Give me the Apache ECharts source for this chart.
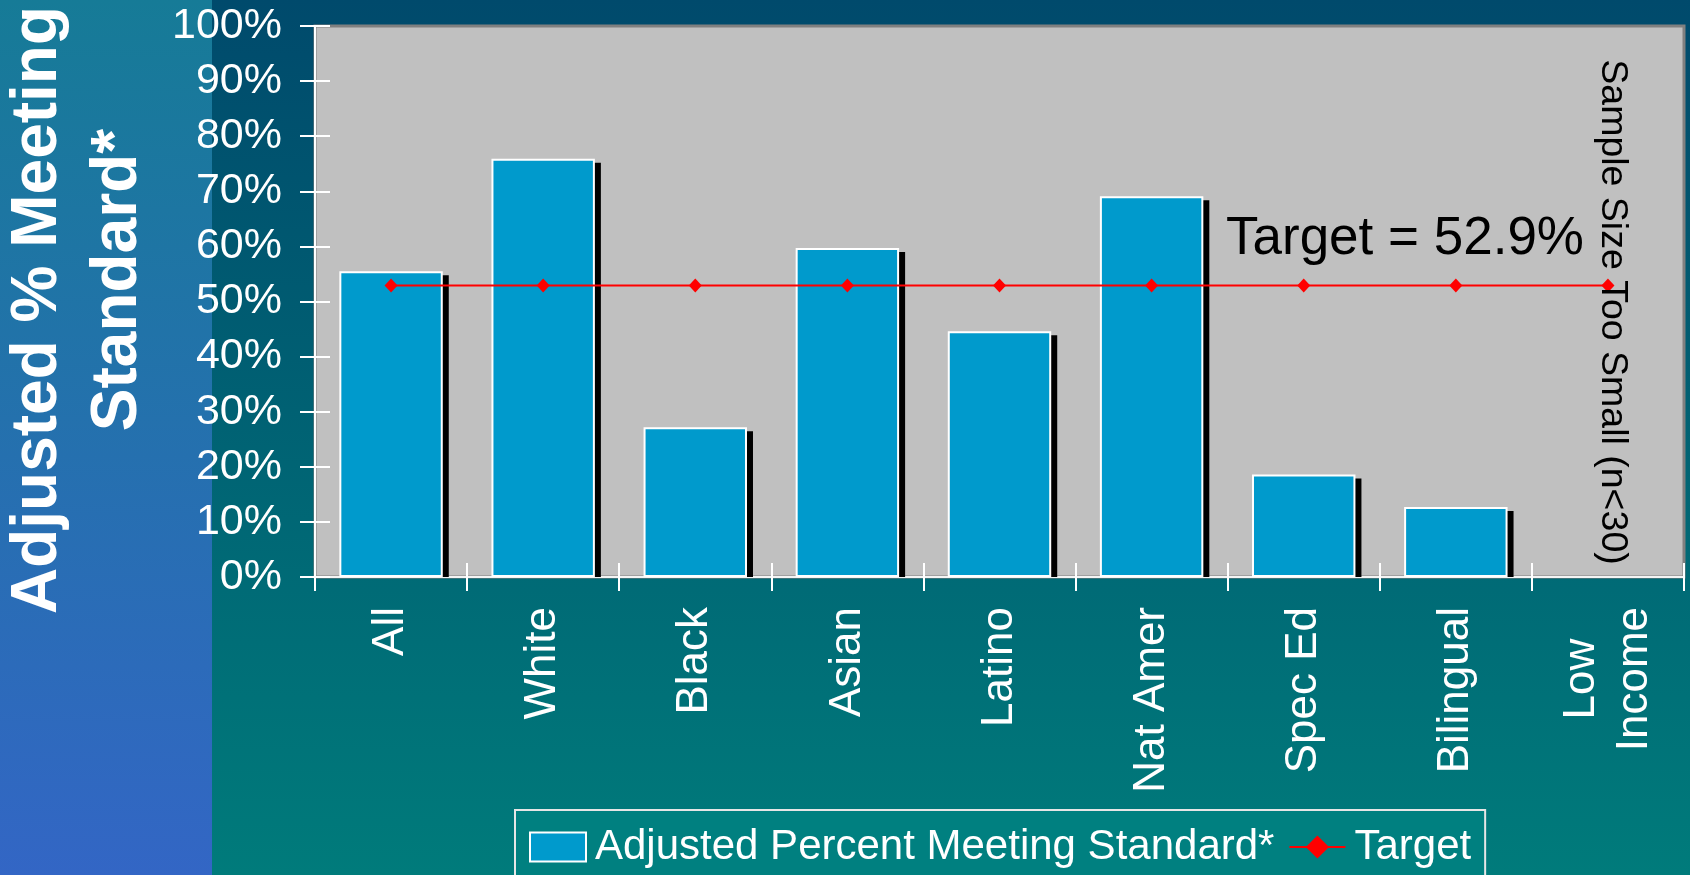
<!DOCTYPE html>
<html>
<head>
<meta charset="utf-8">
<script src="https://cdn.jsdelivr.net/npm/echarts@6/dist/echarts.min.js"></script>
<style>
  html, body { margin: 0; padding: 0; }
  #chart { width: 1690px; height: 875px; }
</style>
</head>
<body>
<div id="chart"></div>
<script>
const categories = ['All', 'White', 'Black', 'Asian', 'Latino', 'Nat Amer', 'Spec Ed', 'Bilingual', 'Low\nIncome']
// 百分比，Low Income 无数据
const meetingStandard = [55.5, 75.9, 27.2, 59.7, 44.6, 69.1, 18.6, 12.7, null]
const target = [52.9, 52.9, 52.9, 52.9, 52.9, 52.9, 52.9, 52.9, 52.9]
const yTicks = [0, 10, 20, 30, 40, 50, 60, 70, 80, 90, 100]

const FONT = '"Liberation Sans", Arial, sans-serif'
const BAR_RATIO = 0.68

var myChart = echarts.init(document.getElementById('chart'))

const tickStyle = { color: '#fff', width: 2 }

const options = {
  backgroundColor: new echarts.graphic.LinearGradient(0, 0, 0, 1, [
    { offset: 0, color: '#004A6C' },
    { offset: 1, color: '#007B7B' }
  ]),
  animation: false,
  textStyle: { fontFamily: FONT },
  grid: {
    left: 315,
    right: 6,
    top: 26,
    bottom: 298,
    show: true,
    backgroundColor: '#C0C0C0',
    borderColor: '#808080',
    borderWidth: 3
  },
  legend: {
    data: [
      { name: 'Adjusted Percent Meeting Standard*', icon: 'rect' },
      { name: 'Target' }
    ],
    left: 515,
    top: 810,
    padding: [16, 14, 24, 14],
    itemWidth: 56,
    itemHeight: 29,
    itemGap: 14,
    backgroundColor: '#008080',
    borderColor: '#E6E6E6',
    borderWidth: 2,
    textStyle: { color: '#fff', fontSize: 42, fontFamily: FONT, padding: [0, 0, 0, 4] }
  },
  xAxis: [
    {
      type: 'category',
      data: categories,
      position: 'bottom',
      boundaryGap: true,
      axisLine: { show: true, lineStyle: { color: '#F4F4F4', width: 2 } },
      axisTick: { show: true, length: 14, lineStyle: tickStyle },
      axisLabel: {
        interval: 0,
        rotate: 90,
        margin: 30,
        color: '#fff',
        fontSize: 44,
        fontFamily: FONT,
        formatter: function (v) {
          if (v.indexOf('\n') < 0) return v
          return v.split('\n').map(function (s) { return '{c|' + s + '}' }).join('\n')
        },
        rich: {
          c: { color: '#fff', fontSize: 44, fontFamily: FONT, align: 'center', lineHeight: 53 }
        }
      },
      splitLine: { show: false }
    },
    {
      type: 'category',
      data: categories,
      position: 'bottom',
      offset: 0,
      boundaryGap: true,
      axisLine: { show: true, lineStyle: { color: '#F4F4F4', width: 2 } },
      axisTick: { show: true, inside: true, length: 14, lineStyle: tickStyle },
      axisLabel: { show: false },
      splitLine: { show: false }
    }
  ],
  yAxis: [
    {
      type: 'value',
      min: yTicks[0],
      max: yTicks[yTicks.length - 1],
      interval: 10,
      position: 'left',
      axisLine: { show: true, lineStyle: { color: '#fff', width: 2 } },
      axisTick: { show: true, length: 15, lineStyle: tickStyle },
      axisLabel: {
        margin: 33,
        color: '#fff',
        fontSize: 43,
        fontFamily: FONT,
        formatter: '{value}%'
      },
      splitLine: { show: false }
    },
    {
      type: 'value',
      min: yTicks[0],
      max: yTicks[yTicks.length - 1],
      interval: 10,
      position: 'left',
      offset: 0,
      axisLine: { show: true, lineStyle: { color: '#fff', width: 2 } },
      axisTick: { show: true, inside: true, length: 15, lineStyle: tickStyle },
      axisLabel: { show: false },
      splitLine: { show: false }
    }
  ],
  series: [
    {
      // 柱子的黑色阴影
      name: 'shadow',
      type: 'custom',
      z: 1,
      silent: true,
      data: meetingStandard.map(function (v, i) { return v == null ? [i, '-'] : [i, v] }),
      renderItem: function (params, api) {
        const v = api.value(1)
        if (isNaN(v)) return null
        const top = api.coord([api.value(0), v])
        const base = api.coord([api.value(0), 0])
        const bw = api.size([1, 0])[0] * BAR_RATIO
        return {
          type: 'rect',
          shape: { x: top[0] - bw / 2 + 6, y: top[1] + 4, width: bw, height: base[1] - top[1] - 4 },
          style: { fill: '#000' }
        }
      }
    },
    {
      name: 'Adjusted Percent Meeting Standard*',
      type: 'bar',
      z: 2,
      barWidth: (BAR_RATIO * 100) + '%',
      itemStyle: { color: '#009ACC', borderColor: '#fff', borderWidth: 2 },
      data: meetingStandard
    },
    {
      name: 'Target',
      type: 'line',
      z: 3,
      symbol: 'diamond',
      symbolSize: [13, 14],
      lineStyle: { color: '#FF0000', width: 2 },
      itemStyle: { color: '#FF0000' },
      data: target
    }
  ]
}

myChart.setOption(options)

// 文字标注
const lowX = myChart.convertToPixel({ xAxisIndex: 0 }, categories.length - 1)
const tgt = myChart.convertToPixel({ yAxisIndex: 0 }, target[0])

myChart.setOption({
  graphic: [
    {
      type: 'rect',
      z: -10,
      shape: { x: 0, y: 0, width: 212, height: 875 },
      style: {
        fill: new echarts.graphic.LinearGradient(0, 0, 0, 1, [
          { offset: 0, color: '#167B97' },
          { offset: 1, color: '#3366C5' }
        ])
      }
    },
    {
      type: 'text',
      x: 38,
      y: 310,
      rotation: Math.PI / 2,
      style: {
        text: 'Adjusted % Meeting',
        fill: '#fff',
        font: 'bold 64px ' + FONT,
        textAlign: 'center',
        textVerticalAlign: 'middle'
      }
    },
    {
      type: 'text',
      x: 118,
      y: 280,
      rotation: Math.PI / 2,
      style: {
        text: 'Standard*',
        fill: '#fff',
        font: 'bold 64px ' + FONT,
        textAlign: 'center',
        textVerticalAlign: 'middle'
      }
    },
    {
      type: 'text',
      x: 1226,
      y: tgt - 46,
      z: 100,
      style: {
        text: 'Target = 52.9%',
        fill: '#000',
        font: '53px ' + FONT,
        textAlign: 'left',
        textVerticalAlign: 'middle'
      }
    },
    {
      type: 'text',
      x: lowX + 4,
      y: 312,
      z: 100,
      rotation: -Math.PI / 2,
      style: {
        text: 'Sample Size Too Small (n<30)',
        fill: '#000',
        font: '37.5px ' + FONT,
        textAlign: 'center',
        textVerticalAlign: 'middle'
      }
    }
  ]
})
</script>
</body>
</html>
